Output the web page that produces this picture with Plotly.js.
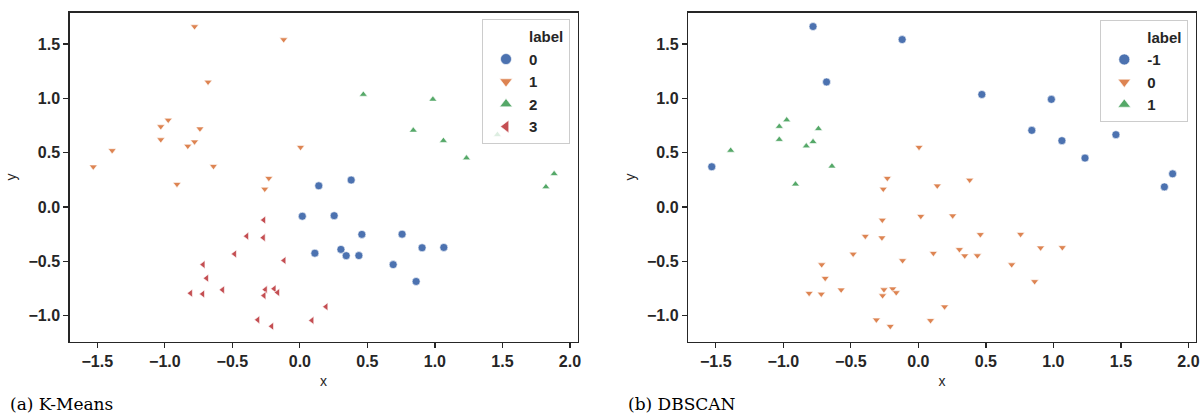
<!DOCTYPE html>
<html>
<head>
<meta charset="utf-8">
<script src="https://cdn.plot.ly/plotly-3.0.1.min.js"></script>
<style>html,body{margin:0;padding:0;background:#fff;}#chart{width:1200px;height:417px;}</style>
</head>
<body>
<div id="chart"></div>
<script>
// Shared 2-D points (same dataset in both panels)
const pointsX = [
  0.14, 0.38, 0.018, 0.254, 0.459, 0.757, 0.905, 1.066, 0.111, 0.304, 0.343, 0.437, 0.691, 0.861,
  -1.53, -1.39, -0.78, -0.12, -0.68, -0.975, -1.03, -0.74, -1.03, -0.78, -0.83, -0.64, -0.91, -0.26, -0.23, 0.005,
  0.47, 0.985, 0.84, 1.063, 1.463, 1.234, 1.883, 1.822,
  -0.267, -0.393, -0.27, -0.483, -0.117, -0.716, -0.69, -0.572, -0.809, -0.719, -0.255, -0.19, -0.164, -0.265, -0.311, -0.208, 0.194, 0.09
];
const pointsY = [
  0.195, 0.248, -0.085, -0.08, -0.252, -0.25, -0.375, -0.372, -0.425, -0.39, -0.448, -0.447, -0.53, -0.685,
  0.37, 0.52, 1.66, 1.54, 1.15, 0.80, 0.74, 0.72, 0.62, 0.60, 0.56, 0.375, 0.21, 0.165, 0.265, 0.55,
  1.035, 0.99, 0.705, 0.61, 0.665, 0.45, 0.305, 0.185,
  -0.12, -0.268, -0.282, -0.432, -0.492, -0.53, -0.655, -0.762, -0.793, -0.8, -0.76, -0.752, -0.787, -0.815, -1.038, -1.097, -0.917, -1.043
];
const kmeansLabel = [
  0,0,0,0,0,0,0,0,0,0,0,0,0,0,
  1,1,1,1,1,1,1,1,1,1,1,1,1,1,1,1,
  2,2,2,2,2,2,2,2,
  3,3,3,3,3,3,3,3,3,3,3,3,3,3,3,3,3,3
];
const dbscanLabel = [
  0,0,0,0,0,0,0,0,0,0,0,0,0,0,
  -1,1,-1,-1,-1,1,1,1,1,1,1,1,1,0,0,0,
  -1,-1,-1,-1,-1,-1,-1,-1,
  0,0,0,0,0,0,0,0,0,0,0,0,0,0,0,0,0,0
];
const kmeansClasses = [0, 1, 2, 3];
const dbscanClasses = [-1, 0, 1];
const legendTitle = 'label';
const captions = ['(a) K-Means', '(b) DBSCAN'];
const tickVals = [-1.5, -1.0, -0.5, 0.0, 0.5, 1.0, 1.5, 2.0];
const tickText = ['\u22121.5', '\u22121.0', '\u22120.5', '0.0', '0.5', '1.0', '1.5', '2.0'];
const yTickVals = [-1.0, -0.5, 0.0, 0.5, 1.0, 1.5];
const yTickText = ['\u22121.0', '\u22120.5', '0.0', '0.5', '1.0', '1.5'];

const palette = ['#4C72B0', '#DD8452', '#55A868', '#C44E52'];
const symbols = ['circle', 'triangle-down', 'triangle-up', 'triangle-left'];
const symSize = {'circle': 8, 'triangle-down': 7, 'triangle-up': 7, 'triangle-left': 7};

const traces = [];
function addPanel(labels, classes, xa, ya, leg) {
  traces.push({x: [null], y: [null], xaxis: xa, yaxis: ya, type: 'scatter', mode: 'markers',
    name: legendTitle, legend: leg, showlegend: true,
    marker: {color: 'rgba(0,0,0,0)', size: 10, line: {width: 0, color: 'rgba(0,0,0,0)'}}, hoverinfo: 'skip'});
  classes.forEach((c, i) => {
    const xs = [], ys = [];
    labels.forEach((l, j) => { if (l === c) { xs.push(pointsX[j]); ys.push(pointsY[j]); } });
    traces.push({x: xs, y: ys, xaxis: xa, yaxis: ya, type: 'scatter', mode: 'markers',
      name: String(c), legend: leg, showlegend: false,
      marker: {symbol: symbols[i], color: palette[i], size: symSize[symbols[i]], line: {color: '#ffffff', width: 0.6}}});
    traces.push({x: [null], y: [null], xaxis: xa, yaxis: ya, type: 'scatter', mode: 'markers',
      name: String(c), legend: leg, showlegend: true,
      marker: {symbol: symbols[i], color: palette[i], size: 11, line: {color: '#ffffff', width: 0.6}}});
  });
}
addPanel(kmeansLabel, kmeansClasses, 'x', 'y', 'legend');
addPanel(dbscanLabel, dbscanClasses, 'x2', 'y2', 'legend2');

const axColor = '#262626';
const tickFont = {family: 'Liberation Sans, Arial, sans-serif', size: 16, weight: 'bold', color: axColor};
function xAxis(domain, anchor) {
  return {domain: domain, anchor: anchor, range: [-1.706, 2.056], tickvals: tickVals, ticktext: tickText,
    showline: true, mirror: true, linecolor: axColor, linewidth: 1.25, ticks: 'outside', ticklen: 5,
    tickwidth: 1.25, tickcolor: axColor, showgrid: false, zeroline: false, tickfont: tickFont,
    title: {text: 'x', font: {family: 'Liberation Sans, Arial, sans-serif', size: 14, color: axColor}, standoff: 7}};
}
function yAxis(domain, anchor) {
  return {domain: domain, anchor: anchor, range: [-1.239, 1.789], tickvals: yTickVals, ticktext: yTickText,
    showline: true, mirror: true, linecolor: axColor, linewidth: 1.25, ticks: 'outside', ticklen: 5,
    tickwidth: 1.25, tickcolor: axColor, showgrid: false, zeroline: false, tickfont: tickFont,
    title: {text: 'y', font: {family: 'Liberation Sans, Arial, sans-serif', size: 14, color: axColor}, standoff: 8}};
}
const yDom = [1 - 341.7 / 417, 1 - 12.5 / 417];
const legendBase = {yanchor: 'top', xanchor: 'right', bgcolor: 'rgba(255,255,255,0.8)', bordercolor: '#cccccc',
  borderwidth: 1, itemwidth: 36, tracegroupgap: 0,
  font: {family: 'Liberation Sans, Arial, sans-serif', size: 15, weight: 'bold', color: axColor}};

const layout = {
  width: 1200, height: 417, margin: {l: 0, r: 0, t: 0, b: 0}, paper_bgcolor: '#ffffff', plot_bgcolor: '#ffffff',
  xaxis: xAxis([69.5 / 1200, 577.5 / 1200], 'y'),
  yaxis: yAxis(yDom, 'x'),
  xaxis2: xAxis([688 / 1200, 1196 / 1200], 'y2'),
  yaxis2: yAxis(yDom, 'x2'),
  legend: Object.assign({x: 570 / 1200, y: 1 - 19.3 / 417}, legendBase),
  legend2: Object.assign({x: 1188.3 / 1200, y: 1 - 19.7 / 417}, legendBase),
  annotations: [
    {text: captions[0], xref: 'paper', yref: 'paper', x: 8 / 1200, y: 1 - 404 / 417, xanchor: 'left', yanchor: 'middle',
      showarrow: false, font: {family: 'DejaVu Serif, serif', size: 17, color: '#000000'}},
    {text: captions[1], xref: 'paper', yref: 'paper', x: 626 / 1200, y: 1 - 404 / 417, xanchor: 'left', yanchor: 'middle',
      showarrow: false, font: {family: 'DejaVu Serif, serif', size: 17, color: '#000000'}}
  ],
  showlegend: true
};
Plotly.newPlot('chart', traces, layout, {displayModeBar: false, staticPlot: true});
</script>
</body>
</html>
